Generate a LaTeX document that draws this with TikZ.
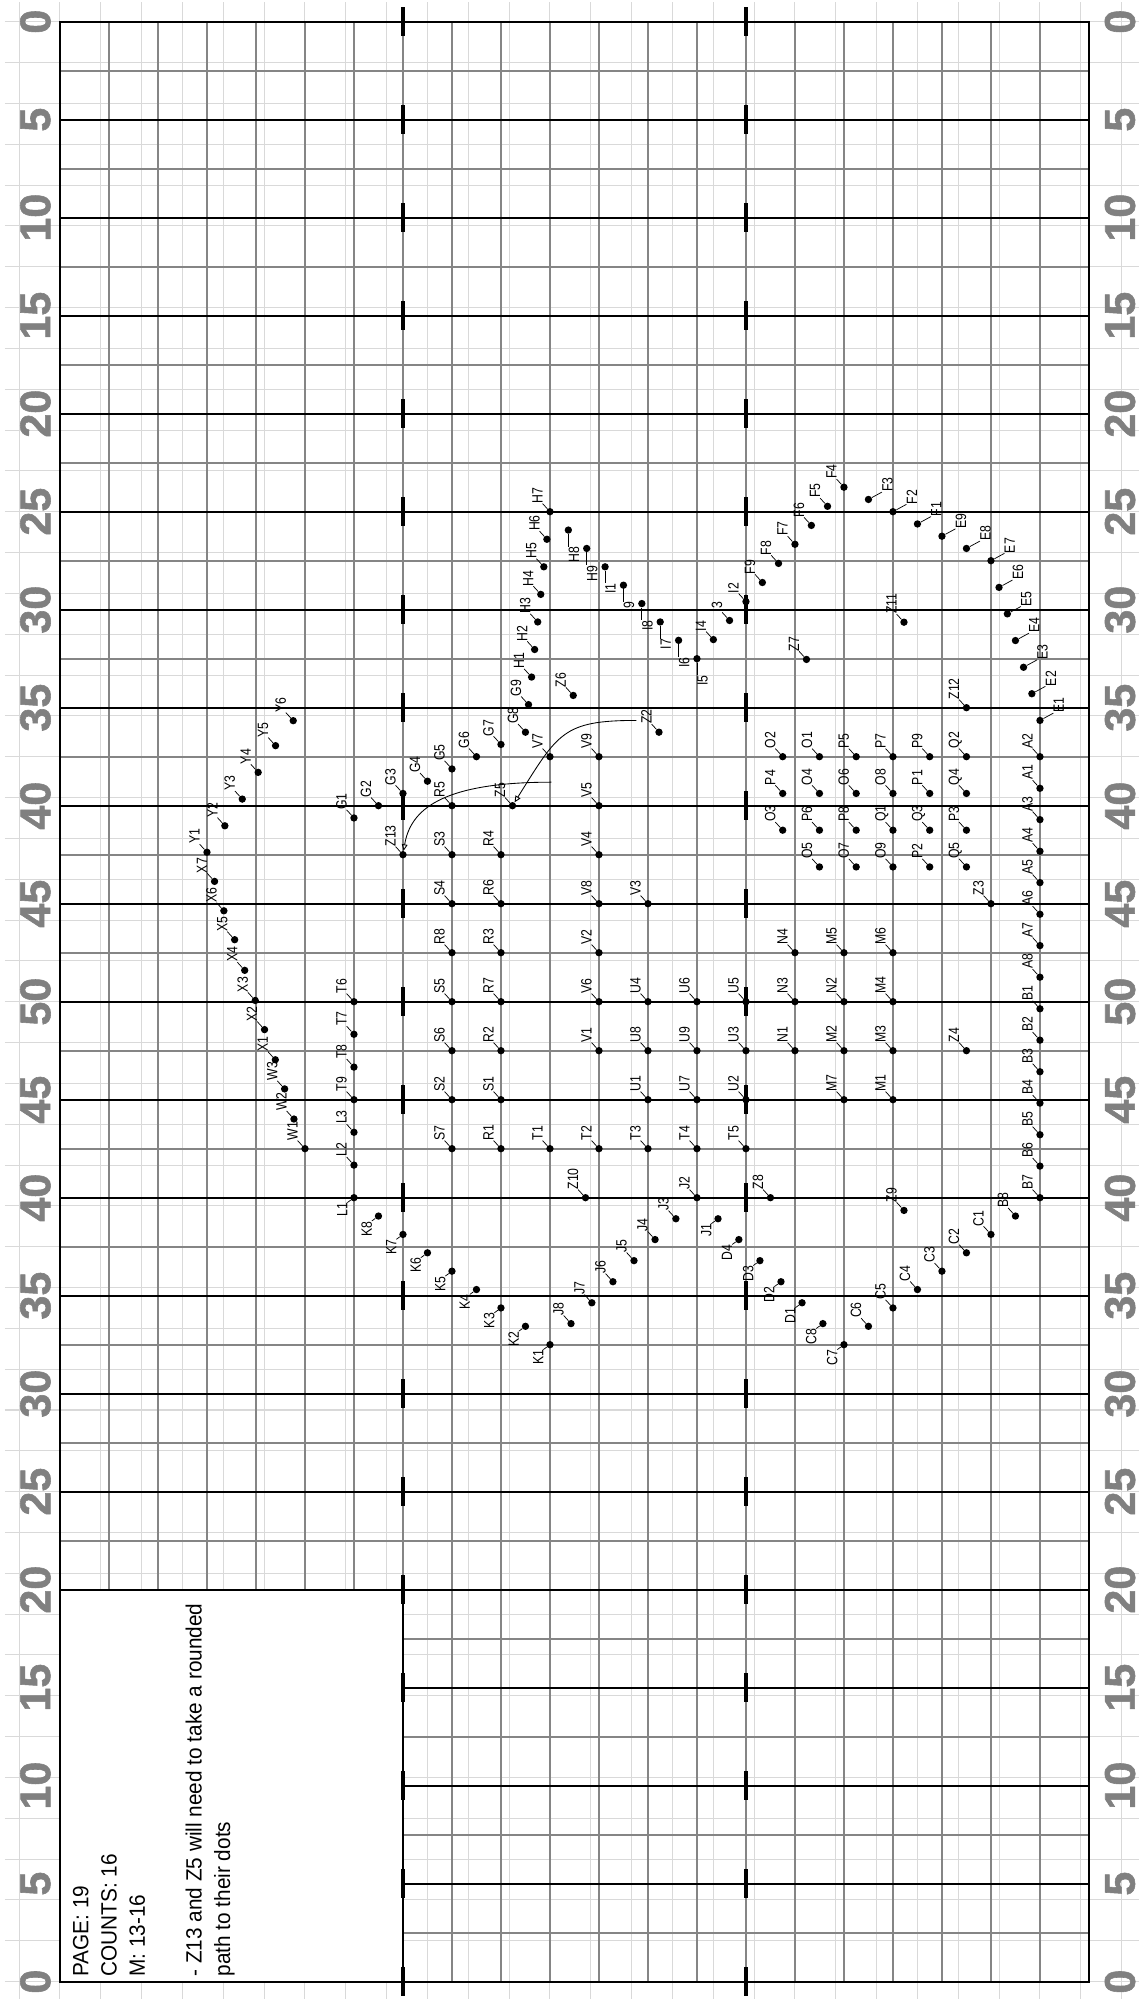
\documentclass[tikz,border=0pt]{standalone}
\usepackage{fontspec}
\setmainfont{Liberation Sans}
\newfontfamily\lblfont[FakeStretch=0.82]{Liberation Sans}
\newfontfamily\boxfont[FakeStretch=0.94]{Liberation Sans}
\newfontfamily\numfont[BoldFeatures={FakeBold=1.3}]{Liberation Sans}
\usetikzlibrary{calc,arrows.meta}
\newcommand\DotUL[3]{%
  \node[dotn] (d#1) at (#2,#3) {};
  \node[lbl,anchor=base west] (l#1) at ($(d#1)+(-0.3,-0.33)$) {#1};
  \draw[leader] (d#1) -- (l#1.base west);}
\newcommand\DotDL[3]{%
  \node[dotn] (d#1) at (#2,#3) {};
  \node[lbl,anchor=base east] (l#1) at ($(d#1)+(-0.27,0.2)$) {#1};
  \draw[leader] (d#1) -- (l#1.base east);}
\newcommand\DotUR[3]{%
  \node[dotn] (d#1) at (#2,#3) {};
  \node[lbl,anchor=north west] (l#1) at ($(d#1)+(0.55,-0.3)$) {#1};
  \draw[leader] (d#1) -- (l#1.north west);}
\newcommand\DotDN[3]{%
  \node[dotn] (d#1) at (#2,#3) {};
  \node[lbl,anchor=north east] (l#1) at ($(d#1)+(0,0.68)$) {#1};
  \draw[leader] (d#1) -- (l#1.north east);}
\begin{document}
\begin{tikzpicture}[x=0.6cm,y=-0.6cm,
  lightg/.style={line width=0.7pt,color=black!15},
  medg/.style={line width=1.2pt,color=black!48},
  blk/.style={line width=1.5pt,color=black},
  tickm/.style={line width=2.4pt,color=black},
  numl/.style={font=\numfont\fontsize{30}{30}\selectfont\bfseries,text=black!50,rotate=90,inner sep=0pt},
  dotn/.style={circle,fill=black,inner sep=0pt,minimum size=1.8mm},
  lbl/.style={font=\lblfont\fontsize{10.4}{11}\selectfont,inner sep=0pt,rotate=90},
  leader/.style={line width=0.5pt},
  boxt/.style={font=\boxfont\fontsize{15.4}{17}\selectfont,inner sep=0pt,rotate=90,anchor=base west},
  zarrow/.style={line width=0.6pt,-{Triangle[open,length=4.5pt,width=4pt]}}
]
\useasboundingbox (-2.448,-0.886) rectangle (44.227,80.79);
% light background grid
\draw[lightg] (-2.25,-0.8) grid (44.05,80.7);
% note box
\fill[white] (0,64) rectangle (14,80);
% medium grey lines
\foreach \gx in {2,4,...,12} \draw[medg] (\gx,0) -- (\gx,64);
\foreach \gx in {14,16,...,40} \draw[medg] (\gx,0) -- (\gx,80);
\foreach \gy in {2,6,...,62} \draw[medg] (0,\gy) -- (42,\gy);
\foreach \gy in {66,70,74,78} \draw[medg] (14,\gy) -- (42,\gy);
% black lines
\foreach \gy in {4,8,...,64} \draw[blk] (0,\gy) -- (42,\gy);
\foreach \gy in {68,72,76} \draw[blk] (14,\gy) -- (42,\gy);
\draw[blk] (0,0) rectangle (42,80);
\draw[line width=1pt] (0,64) rectangle (14,80);
% ticks
\foreach \gy in {0,4,...,80} {
  \draw[tickm] (14,\gy-0.58) -- (14,\gy+0.58);
  \draw[tickm] (28,\gy-0.58) -- (28,\gy+0.58);
}
% side numbers
\foreach \k in {0,...,20} {
  \pgfmathtruncatemacro\vv{\k<=10 ? 5*\k : 5*(20-\k)}
  \node[numl] (nl\k) at (-1.0,4*\k) {\vv};
  \node[numl] (nr\k) at (43.27,4*\k) {\vv};
}
% note text
\node[boxt] (bt1) at (1.155,79.8) {PAGE: 19};
\node[boxt] (bt2) at (2.31,79.8) {COUNTS: 16};
\node[boxt] (bt3) at (3.47,79.8) {M: 13-16};
\node[boxt] (bt4) at (5.78,79.8) {- Z13 and Z5 will need to take a rounded};
\node[boxt] (bt5) at (6.94,79.8) {path to their dots};
% dots, label up-left
\foreach \nn/\px/\py in {A2/40/30, A1/40/31.29, A3/40/32.57, A4/40/33.86, A5/40/35.14, A6/40/36.43, A7/40/37.71, A8/40/39, B1/40/40.29, B2/40/41.57, B3/40/42.86, B4/40/44.14, B5/40/45.43, B6/40/46.71, B7/40/48, B8/39/48.75, C1/38/49.5, C2/37/50.25, C3/36/51, C4/35/51.75, C5/34/52.5, C6/33/53.25,
F4/32/19, F5/31.33/19.78, F6/30.67/20.56, F7/30/21.33, F8/29.33/22.11, F9/28.67/22.89, I2/28/23.67, I3/27.33/24.44, I4/26.67/25.22,
G1/12/32.5, G2/13/32, G3/14/31.5, G4/15/31, G5/16/30.5, G6/17/30, G7/18/29.5, G8/19/29, G9/19.125/27.875, H1/19.25/26.75, H2/19.375/25.625, H3/19.5/24.5, H4/19.625/23.375, H5/19.75/22.25, H6/19.875/21.125, H7/20/20,
J2/26/48, J3/25.14/48.86, J4/24.29/49.71, J5/23.43/50.57, J6/22.57/51.43, J7/21.71/52.29, J8/20.86/53.14,
L2/12/46.67, L3/12/45.33, T6/12/40, T7/12/41.33, T8/12/42.67, T9/12/44,
M1/34/44, M2/32/42, M3/34/42, M4/34/40, M5/32/38, M6/34/38, M7/32/44, N1/30/42, N2/32/40, N3/30/40, N4/30/38,
O1/31/30, O2/29.5/30, O3/29.5/33, O4/31/31.5, O5/31/34.5, O6/32.5/31.5, O7/32.5/34.5, O8/34/31.5, O9/34/34.5,
P1/35.5/31.5, P2/35.5/34.5, P3/37/33, P4/29.5/31.5, P5/32.5/30, P6/31/33, P7/34/30, P8/32.5/33, P9/35.5/30,
Q1/34/33, Q2/37/30, Q3/35.5/33, Q4/37/31.5, Q5/37/34.5,
R1/18/46, R2/18/42, R3/18/38, R4/18/34, R5/16/32, R6/18/36, R7/18/40, R8/16/38,
S1/18/44, S2/16/44, S3/16/34, S4/16/36, S5/16/40, S6/16/42, S7/16/46,
T1/20/46, T2/22/46, T3/24/46, T4/26/46, T5/28/46,
U1/24/44, U2/28/44, U3/28/42, U4/24/40, U5/28/40, U6/26/40, U7/26/44, U8/24/42, U9/26/42,
V1/22/42, V2/22/38, V3/24/36, V4/22/34, V5/22/32, V6/22/40, V7/20/30, V8/22/36, V9/22/30,
W1/10/46, W2/9.55/44.79, W3/9.17/43.56, X1/8.79/42.37, X2/8.35/41.14, X3/7.97/39.95, X4/7.54/38.72, X5/7.13/37.47, X6/6.69/36.29, X7/6.31/35.09,
Y1/6/33.9, Y2/6.73/32.82, Y3/7.44/31.73, Y4/8.09/30.64, Y5/8.8/29.55, Y6/9.52/28.53,
Z2/24.45/29, Z3/38/36, Z4/37/42, Z5/18.47/32, Z6/20.95/27.5, Z7/30.47/26.03, Z8/29/48, Z9/34.45/48.52, Z10/21.45/48, Z11/34.45/24.51, Z12/37/28, Z13/14/34}
  {\DotUL{\nn}{\px}{\py}}
% dots, label down-left
\foreach \nn/\px/\py in {C7/32/54, C8/31.14/53.14, D1/30.29/52.29, D2/29.43/51.43, D3/28.57/50.57, D4/27.71/49.71, J1/26.86/48.86, K1/20/54, K2/19/53.25, K3/18/52.5, K4/17/51.75, K5/16/51, K6/15/50.25, K7/14/49.5, K8/13/48.75, L1/12/48}
  {\DotDL{\nn}{\px}{\py}}
% dots, label up-right
\foreach \nn/\px/\py in {E1/40/28.52, E2/39.67/27.43, E3/39.33/26.35, E4/39/25.26, E5/38.67/24.17, E6/38.33/23.09, E7/38/22, E8/37/21.5, E9/36/21, F1/35/20.5, F2/34/20, F3/33/19.5}
  {\DotUR{\nn}{\px}{\py}}
% dots, label below
\foreach \nn/\px/\py in {H8/20.75/20.75, H9/21.5/21.5, I1/22.25/22.25, I9/23/23, I8/23.75/23.75, I7/24.5/24.5, I6/25.25/25.25, I5/26/26}
  {\DotDN{\nn}{\px}{\py}}
% rounded paths
\coordinate (zs1) at (23.53,28.52);
\coordinate (zs2) at (20.06,31.04);
\draw[zarrow] (zs1) .. controls (20.53,28.52) and (20.33,29.03) .. (dZ5);
\draw[zarrow] (zs2) .. controls (15.5,31.04) and (14.3,32.2) .. (dZ13);
\end{tikzpicture}
\end{document}
